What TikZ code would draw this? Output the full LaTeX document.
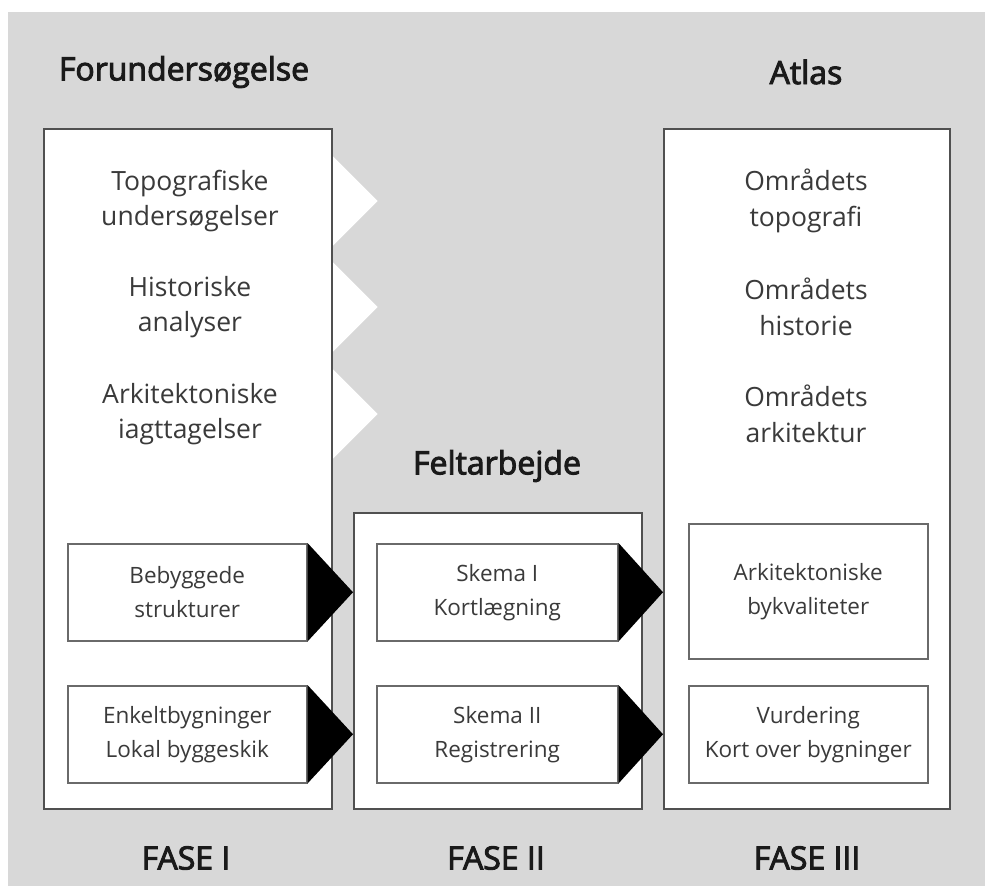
\documentclass[tikz,border=0pt]{standalone}
\usepackage{fontspec}
\setmainfont{Open Sans}
\newfontfamily\titlefont[FakeBold=3]{Open Sans}
\usetikzlibrary{calc}
\definecolor{bggray}{HTML}{D8D8D8}
\definecolor{edge}{HTML}{505050}
\definecolor{txt}{HTML}{3A3A3A}
\definecolor{ttl}{HTML}{1A1A1A}
\tikzset{
  panel/.style={draw=edge, line width=1.6pt, fill=white, anchor=north west, inner sep=0pt},
  subbox/.style={draw=edge!85, line width=1.5pt, fill=white, anchor=north west, inner sep=0pt,
                 align=center, text=txt, font=\fontsize{22.5}{34}\selectfont},
  bodytxt/.style={align=center, text=txt, font=\fontsize{26.5}{35.5}\selectfont},
  titletxt/.style={text=ttl, font=\titlefont\fontsize{32}{38}\selectfont},
  chevron/.style={fill=white},
  pointer/.style={fill=black}
}
\begin{document}
\begin{tikzpicture}[x=1pt, y=-1pt]
\useasboundingbox (0,0) rectangle (985,886);
\fill[white] (0,0) rectangle (985,886);
\fill[bggray] (8,12) rectangle (985,886);

% titles
\node[titletxt] (tf) at (184,72) {Forundersøgelse};
\node[titletxt] (ta) at (806,72) {Atlas};
\node[titletxt] (tb) at (497,466) {Feltarbejde};

% panels
\node[panel, minimum width=288pt, minimum height=680pt] (p1) at (43,128) {};
\node[panel, minimum width=288pt, minimum height=296pt] (p2) at (353,512) {};
\node[panel, minimum width=286pt, minimum height=680pt] (p3) at (663,128) {};

% left panel texts
\node[bodytxt] (l1) at (190,201) {Topografiske\\undersøgelser};
\node[bodytxt] (l2) at (190,307) {Historiske\\analyser};
\node[bodytxt] (l3) at (190,414) {Arkitektoniske\\iagttagelser};

% right panel texts
\node[bodytxt] (r1) at (806,201) {Områdets\\topografi};
\node[bodytxt] (r2) at (806,307) {Områdets\\historie};
\node[bodytxt] (r3) at (806,414) {Områdets\\arkitektur};

% white chevrons
\foreach \t in {l1,l2,l3}{
  \fill[chevron] ([yshift=45pt]p1.east |- \t) -- ([xshift=45pt]p1.east |- \t) -- ([yshift=-45pt]p1.east |- \t) -- cycle;
}
\draw[edge, line width=1.6pt] (p1.north east) -- (p1.south east);

% sub boxes
\node[subbox, minimum width=239pt, minimum height=97pt] (a1) at (67,543) {Bebyggede\\strukturer};
\node[subbox, minimum width=239pt, minimum height=97pt] (a2) at (67,685) {Enkeltbygninger\\Lokal byggeskik};
\node[subbox, minimum width=241pt, minimum height=97pt] (b1) at (376,543) {Skema I\\Kortlægning};
\node[subbox, minimum width=241pt, minimum height=97pt] (b2) at (376,685) {Skema II\\Registrering};
\node[subbox, minimum width=239pt, minimum height=135pt] (c1) at (688,523) {Arkitektoniske\\bykvaliteter};
\node[subbox, minimum width=239pt, minimum height=97pt] (c2) at (688,685) {Vurdering\\Kort over bygninger};

% black pointers
\fill[pointer] (a1.north east) -- (p2.west |- a1.east) -- (a1.south east) -- cycle;
\fill[pointer] (a2.north east) -- (p2.west |- a2.east) -- (a2.south east) -- cycle;
\fill[pointer] (b1.north east) -- (p3.west |- b1.east) -- (b1.south east) -- cycle;
\fill[pointer] (b2.north east) -- (p3.west |- b2.east) -- (b2.south east) -- cycle;

% phase labels
\node[titletxt] (f1) at (186,858) {FASE I};
\node[titletxt] (f2) at (496,858) {FASE II};
\node[titletxt] (f3) at (807,858) {FASE III};
\end{tikzpicture}
\end{document}
